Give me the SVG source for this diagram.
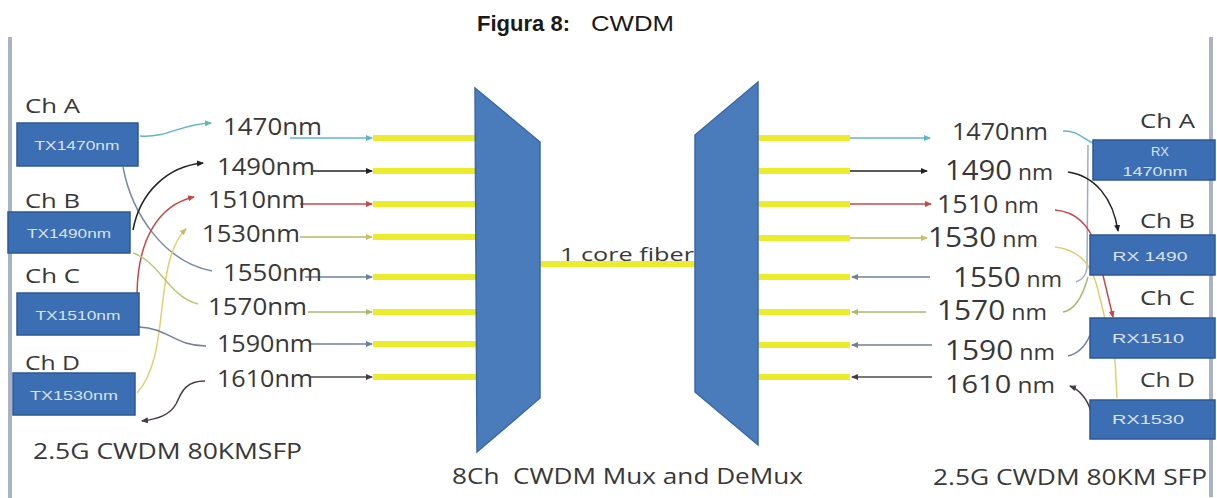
<svg xmlns="http://www.w3.org/2000/svg" width="1217" height="498" viewBox="0 0 1217 498">
<style>
.lbl{font-family:"Open Sans","Liberation Sans",sans-serif;fill:#383838}
.wl{font-size:24px}
.ch{font-size:20px}
.bx{fill:#3c6eb4;stroke:#2d5894;stroke-width:1.5}
.bt{font-family:"Liberation Sans",Arial,sans-serif;fill:#d8e2f2;font-size:13px;text-anchor:middle}
.trap{fill:#4a7cbc;stroke:#3a69a6;stroke-width:1.5}
.fib{stroke:#ecec2c;stroke-width:6;fill:none}
.c{fill:none;stroke-width:1.5}
.border{stroke:#aab3c6;stroke-width:4}
</style>
<defs>
<marker id="mTeal" markerWidth="8" markerHeight="8" refX="6" refY="4" orient="auto" markerUnits="userSpaceOnUse"><path d="M0,1 L7,4 L0,7 z" fill="#5fb4c8"/></marker>
<marker id="mBlack" markerWidth="8" markerHeight="8" refX="6" refY="4" orient="auto" markerUnits="userSpaceOnUse"><path d="M0,1 L7,4 L0,7 z" fill="#222"/></marker>
<marker id="mRed" markerWidth="8" markerHeight="8" refX="6" refY="4" orient="auto" markerUnits="userSpaceOnUse"><path d="M0,1 L7,4 L0,7 z" fill="#c84848"/></marker>
<marker id="mOlive" markerWidth="8" markerHeight="8" refX="6" refY="4" orient="auto" markerUnits="userSpaceOnUse"><path d="M0,1 L7,4 L0,7 z" fill="#c8c060"/></marker>
<marker id="mGray" markerWidth="8" markerHeight="8" refX="6" refY="4" orient="auto" markerUnits="userSpaceOnUse"><path d="M0,1 L7,4 L0,7 z" fill="#6f8096"/></marker>
<marker id="mGreen" markerWidth="8" markerHeight="8" refX="6" refY="4" orient="auto" markerUnits="userSpaceOnUse"><path d="M0,1 L7,4 L0,7 z" fill="#a6bc6c"/></marker>
<marker id="mDark" markerWidth="8" markerHeight="8" refX="6" refY="4" orient="auto" markerUnits="userSpaceOnUse"><path d="M0,1 L7,4 L0,7 z" fill="#4a3a48"/></marker>
</defs>
<rect width="1217" height="498" fill="#ffffff"/>
<line class="border" x1="10" y1="37" x2="10" y2="498"/>
<line class="border" x1="1211" y1="37" x2="1211" y2="497"/>

<g id="title">
<text x="477" y="31" font-family="Liberation Sans,Arial,sans-serif" font-size="22" font-weight="bold" fill="#1a1a1a" textLength="93" lengthAdjust="spacingAndGlyphs">Figura 8:</text>
<text x="591" y="31" font-family="Liberation Sans,Arial,sans-serif" font-size="22" fill="#1a1a1a" textLength="83" lengthAdjust="spacingAndGlyphs">CWDM</text>
</g>

<g id="fibers">
<line class="fib" x1="373" y1="138" x2="478" y2="138"/>
<line class="fib" x1="373" y1="171" x2="478" y2="171"/>
<line class="fib" x1="373" y1="204" x2="478" y2="204"/>
<line class="fib" x1="373" y1="237" x2="478" y2="237"/>
<line class="fib" x1="373" y1="277" x2="478" y2="277"/>
<line class="fib" x1="373" y1="312" x2="478" y2="312"/>
<line class="fib" x1="373" y1="344" x2="478" y2="344"/>
<line class="fib" x1="373" y1="377" x2="478" y2="377"/>
<line class="fib" x1="755" y1="138" x2="850" y2="138"/>
<line class="fib" x1="755" y1="171" x2="850" y2="171"/>
<line class="fib" x1="755" y1="204" x2="850" y2="204"/>
<line class="fib" x1="755" y1="238" x2="850" y2="238"/>
<line class="fib" x1="755" y1="277" x2="850" y2="277"/>
<line class="fib" x1="755" y1="312" x2="850" y2="312"/>
<line class="fib" x1="755" y1="345" x2="850" y2="345"/>
<line class="fib" x1="755" y1="377" x2="850" y2="377"/>
<line class="fib" x1="538" y1="264" x2="698" y2="264" stroke-width="5"/>
</g>

<g id="connectors">
<path class="c" stroke="#5fb4c8" d="M140,136 C168,138 180,124 211,123" marker-end="url(#mTeal)"/>
<path class="c" stroke="#7a8ca4" d="M123,167 C132,215 165,262 212,271"/>
<path class="c" stroke="#222" d="M133,230 C140,192 168,166 203,163" marker-end="url(#mBlack)"/>
<path class="c" stroke="#c84848" d="M137,293 C138,240 158,205 194,197" marker-end="url(#mRed)"/>
<path class="c" stroke="#e0d070" d="M137,393 C172,355 152,262 186,229" marker-end="url(#mOlive)"/>
<path class="c" stroke="#b8c878" d="M133,253 C160,262 168,296 198,304"/>
<path class="c" stroke="#6f8096" d="M139,327 C168,328 175,346 206,346"/>
<path class="c" stroke="#4a3a48" d="M205,381 C184,381 181,394 176,404 C170,415 158,419 142,421" marker-end="url(#mDark)"/>
<path class="c" stroke="#5fb4c8" d="M290,138 H372" marker-end="url(#mTeal)"/>
<path class="c" stroke="#222" d="M313,171 H372" marker-end="url(#mBlack)"/>
<path class="c" stroke="#c84848" d="M300,204 H372" marker-end="url(#mRed)"/>
<path class="c" stroke="#b8b860" d="M300,237 H372" marker-end="url(#mOlive)"/>
<path class="c" stroke="#6f8096" d="M305,277 H372" marker-end="url(#mGray)"/>
<path class="c" stroke="#a6bc6c" d="M308,312 H372" marker-end="url(#mGreen)"/>
<path class="c" stroke="#6f8096" d="M310,344 H372" marker-end="url(#mGray)"/>
<path class="c" stroke="#4a4a4a" d="M310,377 H372" marker-end="url(#mDark)"/>
<path class="c" stroke="#5fb4c8" d="M850,138 H930" marker-end="url(#mTeal)"/>
<path class="c" stroke="#222" d="M850,171 H927" marker-end="url(#mBlack)"/>
<path class="c" stroke="#c84848" d="M850,204 H931" marker-end="url(#mRed)"/>
<path class="c" stroke="#b8b860" d="M850,238 H927" marker-end="url(#mOlive)"/>
<path class="c" stroke="#6f8096" d="M930,277 H852" marker-end="url(#mGray)"/>
<path class="c" stroke="#a6bc6c" d="M926,312 H852" marker-end="url(#mGreen)"/>
<path class="c" stroke="#6f8096" d="M932,345 H852" marker-end="url(#mGray)"/>
<path class="c" stroke="#4a4a4a" d="M932,377 H852" marker-end="url(#mDark)"/>
<path class="c" stroke="#5fb4c8" d="M1063,131 C1076,130 1082,138 1093,143"/>
<path class="c" stroke="#9aaec4" d="M1088,145 L1087,268 C1086,276 1082,280 1076,282"/>
<path class="c" stroke="#222" d="M1068,172 C1095,176 1113,198 1118,231" marker-end="url(#mBlack)"/>
<path class="c" stroke="#c84848" d="M1055,210 C1078,212 1090,228 1096,246 L1113,317" marker-end="url(#mRed)"/>
<path class="c" stroke="#e0d070" d="M1055,247 C1080,250 1092,265 1098,290 L1115,360 L1117,398"/>
<path class="c" stroke="#a6bc6c" d="M1063,312 C1076,310 1083,295 1088,277"/>
<path class="c" stroke="#6f8096" d="M1068,356 C1080,353 1086,345 1090,335"/>
<path class="c" stroke="#4a3a48" d="M1091,412 C1088,400 1080,390 1070,386" marker-end="url(#mDark)"/>
</g>

<g id="mux">
<polygon class="trap" points="475,88 540,142 540,398 477,452"/>
</g>
<g id="demux">
<polygon class="trap" points="695,135 758,82 758,445 695,392"/>
</g>
<g id="core-fiber-label">
<text class="lbl" x="560" y="261" font-size="19" textLength="134" lengthAdjust="spacingAndGlyphs">1 core fiber</text>
</g>

<g id="tx-a">
<text class="lbl ch" x="25" y="113" textLength="55" lengthAdjust="spacingAndGlyphs">Ch A</text>
<rect class="bx" x="17" y="123" width="121" height="43"/>
<text class="bt" x="77" y="150" textLength="85" lengthAdjust="spacingAndGlyphs">TX1470nm</text>
</g>
<g id="tx-b">
<text class="lbl ch" x="25" y="208" textLength="55" lengthAdjust="spacingAndGlyphs">Ch B</text>
<rect class="bx" x="8" y="212" width="122" height="41"/>
<text class="bt" x="69" y="238" textLength="84" lengthAdjust="spacingAndGlyphs">TX1490nm</text>
</g>
<g id="tx-c">
<text class="lbl ch" x="25" y="283" textLength="55" lengthAdjust="spacingAndGlyphs">Ch C</text>
<rect class="bx" x="17" y="293" width="122" height="42"/>
<text class="bt" x="78" y="320" textLength="85" lengthAdjust="spacingAndGlyphs">TX1510nm</text>
</g>
<g id="tx-d">
<text class="lbl ch" x="25" y="370" textLength="55" lengthAdjust="spacingAndGlyphs">Ch D</text>
<rect class="bx" x="13" y="373" width="122" height="42"/>
<text class="bt" x="74" y="400" textLength="88" lengthAdjust="spacingAndGlyphs">TX1530nm</text>
</g>

<g id="left-wavelengths">
<text class="lbl wl" x="223" y="135" textLength="99" lengthAdjust="spacingAndGlyphs">1470nm</text>
<text class="lbl wl" x="217" y="175" textLength="98" lengthAdjust="spacingAndGlyphs">1490nm</text>
<text class="lbl wl" x="208" y="208" textLength="97" lengthAdjust="spacingAndGlyphs">1510nm</text>
<text class="lbl wl" x="202" y="242" textLength="98" lengthAdjust="spacingAndGlyphs">1530nm</text>
<text class="lbl wl" x="223" y="281" textLength="99" lengthAdjust="spacingAndGlyphs">1550nm</text>
<text class="lbl wl" x="208" y="315" textLength="99" lengthAdjust="spacingAndGlyphs">1570nm</text>
<text class="lbl wl" x="217" y="352" textLength="96" lengthAdjust="spacingAndGlyphs">1590nm</text>
<text class="lbl wl" x="217" y="387" textLength="96" lengthAdjust="spacingAndGlyphs">1610nm</text>
</g>

<g id="right-wavelengths">
<text class="lbl" font-size="23" x="952" y="140" textLength="96" lengthAdjust="spacingAndGlyphs">1470nm</text>
<text class="lbl" font-size="27" x="945" y="180" textLength="108" lengthAdjust="spacingAndGlyphs">1490<tspan font-size="21"> nm</tspan></text>
<text class="lbl" font-size="25" x="937" y="213" textLength="102" lengthAdjust="spacingAndGlyphs">1510<tspan font-size="21"> nm</tspan></text>
<text class="lbl" font-size="27" x="928" y="247" textLength="110" lengthAdjust="spacingAndGlyphs">1530<tspan font-size="21"> nm</tspan></text>
<text class="lbl" font-size="27" x="953" y="287" textLength="109" lengthAdjust="spacingAndGlyphs">1550<tspan font-size="21"> nm</tspan></text>
<text class="lbl" font-size="27" x="937" y="320" textLength="110" lengthAdjust="spacingAndGlyphs">1570<tspan font-size="21"> nm</tspan></text>
<text class="lbl" font-size="27" x="945" y="360" textLength="110" lengthAdjust="spacingAndGlyphs">1590<tspan font-size="21"> nm</tspan></text>
<text class="lbl" font-size="25" x="945" y="393" textLength="110" lengthAdjust="spacingAndGlyphs">1610<tspan font-size="21"> nm</tspan></text>
</g>

<g id="rx-a">
<text class="lbl ch" x="1140" y="128" textLength="55" lengthAdjust="spacingAndGlyphs">Ch A</text>
<rect class="bx" x="1093" y="140" width="122" height="40"/>
<text class="bt" x="1160" y="156" font-size="12">RX</text>
<text class="bt" x="1155" y="176" font-size="12" textLength="65" lengthAdjust="spacingAndGlyphs">1470nm</text>
</g>
<g id="rx-b">
<text class="lbl ch" x="1140" y="228" textLength="55" lengthAdjust="spacingAndGlyphs">Ch B</text>
<rect class="bx" x="1090" y="235" width="125" height="40"/>
<text class="bt" x="1150" y="261" font-size="14" textLength="75" lengthAdjust="spacingAndGlyphs">RX 1490</text>
</g>
<g id="rx-c">
<text class="lbl ch" x="1140" y="305" textLength="55" lengthAdjust="spacingAndGlyphs">Ch C</text>
<rect class="bx" x="1090" y="318" width="125" height="40"/>
<text class="bt" x="1148" y="343" font-size="14" textLength="72" lengthAdjust="spacingAndGlyphs">RX1510</text>
</g>
<g id="rx-d">
<text class="lbl ch" x="1140" y="387" textLength="55" lengthAdjust="spacingAndGlyphs">Ch D</text>
<rect class="bx" x="1090" y="400" width="125" height="39"/>
<text class="bt" x="1148" y="424" font-size="14" textLength="72" lengthAdjust="spacingAndGlyphs">RX1530</text>
</g>

<g id="captions">
<text class="lbl" font-size="21" x="33" y="459" textLength="269" lengthAdjust="spacingAndGlyphs">2.5G CWDM 80KMSFP</text>
<text class="lbl" font-size="21" x="452" y="484" textLength="351" lengthAdjust="spacingAndGlyphs" xml:space="preserve">8Ch  CWDM Mux and DeMux</text>
<text class="lbl" font-size="21" x="933" y="485" textLength="274" lengthAdjust="spacingAndGlyphs">2.5G CWDM 80KM SFP</text>
</g>
</svg>
